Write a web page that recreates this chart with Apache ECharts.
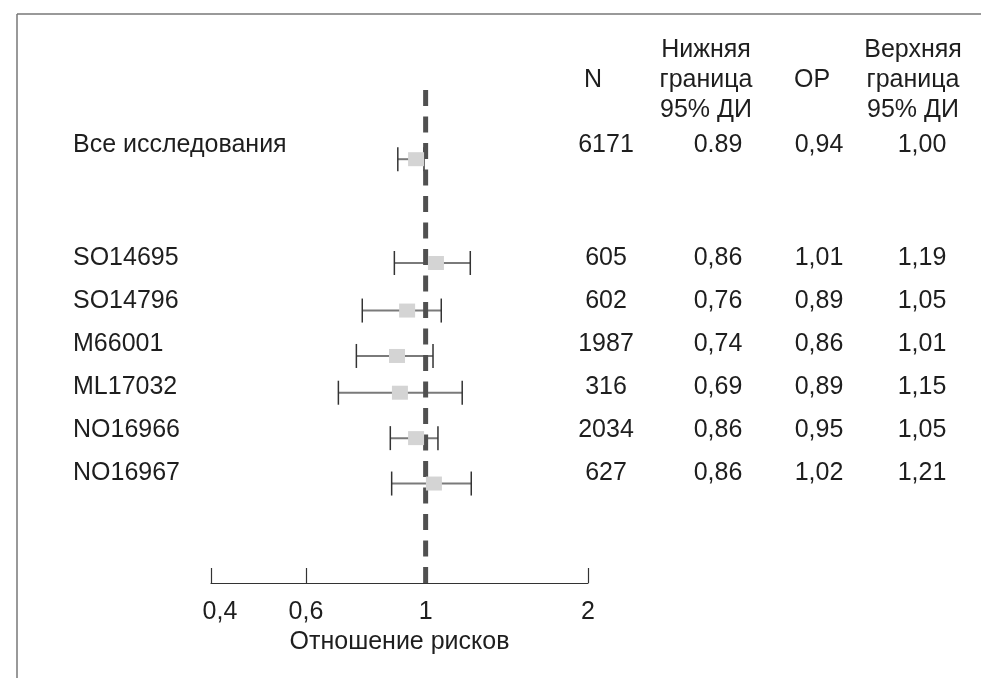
<!DOCTYPE html>
<html>
<head>
<meta charset="utf-8">
<script src="https://cdn.jsdelivr.net/npm/echarts/dist/echarts.min.js"></script>
<style>
html,body{margin:0;padding:0;background:#fff;}
#chart{width:981px;height:678px;}
</style>
</head>
<body>
<div id="chart"></div>
<script>
// ---- data ----
const studies = ['Все исследования', 'SO14695', 'SO14796', 'M66001', 'ML17032', 'NO16966', 'NO16967'];
const nValues = ['6171', '605', '602', '1987', '316', '2034', '627'];
const lowerText = ['0.89', '0,86', '0,76', '0,74', '0,69', '0,86', '0,86'];
const orText = ['0,94', '1,01', '0,89', '0,86', '0,89', '0,95', '1,02'];
const upperText = ['1,00', '1,19', '1,05', '1,01', '1,15', '1,05', '1,21'];
// marks as drawn in the picture
const plotOR = [0.96, 1.045, 0.924, 0.885, 0.896, 0.96, 1.036];
const plotLow = [0.888, 0.875, 0.763, 0.744, 0.689, 0.860, 0.865];
const plotHigh = [0.993, 1.210, 1.069, 1.032, 1.169, 1.054, 1.215];
const rowPos = [0, 2.4, 3.5, 4.55, 5.4, 6.45, 7.5];
const xTicks = [0.4, 0.6, 1, 2];
const refValue = 1;
const headers = ['N', 'Нижняя\nграница\n95% ДИ', 'ОР', 'Верхняя\nграница\n95% ДИ'];

// ---- layout ----
const FONT = '"Liberation Sans", Arial, Helvetica, sans-serif';
const FS = 25;
const TXT = '#1e1e1e';
const colCenters = [606, 718, 819, 922];
const headerCenters = [593, 706, 812, 913];
const rowTextY = studies.map((s, i) => i === 0 ? 145 : 258 + 43 * (i - 1));

const chart = echarts.init(document.getElementById('chart'));

const graphics = [
  {type: 'line', shape: {x1: 17, y1: 14, x2: 981, y2: 14}, style: {stroke: '#777', lineWidth: 1.5}},
  {type: 'line', shape: {x1: 17, y1: 14, x2: 17, y2: 678}, style: {stroke: '#777', lineWidth: 1.5}}
];
headers.forEach((h, j) => {
  graphics.push({type: 'text', x: headerCenters[j], y: 80,
    style: {text: h, fill: TXT, font: FS + 'px ' + FONT, align: 'center', verticalAlign: 'middle', lineHeight: 30}});
});
studies.forEach((s, i) => {
  const y = rowTextY[i];
  graphics.push({type: 'text', x: 73, y: y, style: {text: s, fill: TXT, font: FS + 'px ' + FONT, align: 'left', verticalAlign: 'middle'}});
  [nValues[i], lowerText[i], orText[i], upperText[i]].forEach((t, j) => {
    graphics.push({type: 'text', x: colCenters[j], y: y, style: {text: t, fill: TXT, font: FS + 'px ' + FONT, align: 'center', verticalAlign: 'middle'}});
  });
});

const whiskerData = studies.map((s, i) => [plotLow[i], plotHigh[i], plotOR[i], rowPos[i]]);
const boxData = studies.map((s, i) => [plotOR[i], rowPos[i]]);

chart.setOption({
  backgroundColor: '#fff',
  animation: false,
  grid: {left: 211, right: 393, top: 90, bottom: 95},
  xAxis: {
    type: 'log', logBase: 10, min: 0.4, max: 2,
    axisLine: {onZero: false, lineStyle: {color: '#333', width: 1.2}},
    axisTick: {show: true, inside: true, length: 15, customValues: xTicks, lineStyle: {color: '#333', width: 1.2}},
    minorTick: {show: false},
    splitLine: {show: false},
    axisLabel: {
      customValues: xTicks, margin: 17, color: TXT, fontSize: FS, fontFamily: FONT,
      formatter: function (v) {
        const s = String(+v.toFixed(2)).replace('.', ',');
        return Math.abs(v - 0.4) < 1e-6 ? '{a|' + s + '}' : s;
      },
      rich: {a: {fontSize: FS, fontFamily: FONT, color: TXT, padding: [0, 0, 0, 18]}}
    },
    name: 'Отношение рисков', nameLocation: 'middle', nameGap: 40,
    nameTextStyle: {color: TXT, fontSize: FS, fontFamily: FONT}
  },
  yAxis: {type: 'value', inverse: true, min: -1.6, max: 9.8, show: false},
  graphic: graphics,
  series: [
    {
      type: 'custom', z: 2,
      data: whiskerData,
      encode: {x: [0, 1, 2], y: 3},
      renderItem: function (params, api) {
        const y = api.value(3);
        const pl = api.coord([api.value(0), y]);
        const ph = api.coord([api.value(1), y]);
        return {type: 'group', children: [
          {type: 'line', shape: {x1: pl[0], y1: pl[1], x2: ph[0], y2: ph[1]}, style: {stroke: '#7a7a7a', lineWidth: 2}},
          {type: 'line', shape: {x1: pl[0], y1: pl[1] - 12, x2: pl[0], y2: pl[1] + 12}, style: {stroke: '#333', lineWidth: 1.5}},
          {type: 'line', shape: {x1: ph[0], y1: ph[1] - 12, x2: ph[0], y2: ph[1] + 12}, style: {stroke: '#333', lineWidth: 1.5}}
        ]};
      }
    },
    {
      type: 'line', z: 3, symbol: 'none',
      data: [[refValue, -1.6], [refValue, 9.8]],
      lineStyle: {color: '#505050', width: 5, type: [16, 10.5], cap: 'butt'}
    },
    {
      type: 'scatter', z: 4,
      data: boxData,
      symbol: 'rect', symbolSize: [16, 14],
      itemStyle: {color: '#d4d4d4', opacity: 1}
    }
  ]
});
</script>
</body>
</html>
